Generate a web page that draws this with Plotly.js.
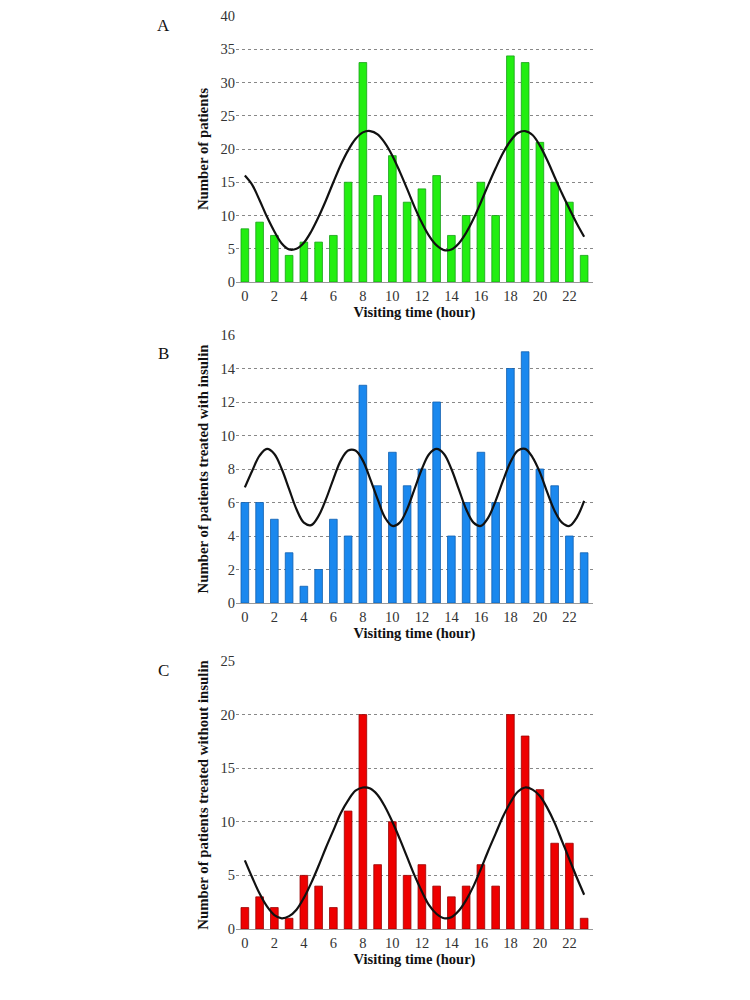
<!DOCTYPE html>
<html>
<head>
<meta charset="utf-8">
<script src="https://cdn.plot.ly/plotly-3.0.1.min.js"></script>
<style>html,body{margin:0;padding:0;background:#fff}#chart{width:750px;height:1000px}</style>
</head>
<body>
<div id="chart"></div>
<script>
const hours = [0,1,2,3,4,5,6,7,8,9,10,11,12,13,14,15,16,17,18,19,20,21,22,23];
const allPatients = [8,9,7,4,6,6,7,15,33,13,19,12,14,16,7,10,15,10,34,33,21,15,12,4];
const withInsulin = [6,6,5,3,1,2,5,4,13,7,9,7,8,12,4,6,9,6,14,15,8,7,4,3];
const withoutInsulin = [2,3,2,1,5,4,2,11,20,6,10,5,6,4,3,4,6,4,20,18,13,8,8,1];

const curveHours = [0,0.5,1,1.5,2,2.5,3,3.5,4,4.5,5,5.5,6,6.5,7,7.5,8,8.5,9,9.5,10,10.5,11,11.5,12,12.5,13,13.5,14,14.5,15,15.5,16,16.5,17,17.5,18,18.5,19,19.5,20,20.5,21,21.5,22,22.5,23];
const fitAll = [16,14.6,12.3,9.8,7.6,5.8,4.9,5.0,5.9,7.6,9.8,12.3,15.0,17.6,19.8,21.5,22.5,22.7,22.2,20.9,19.0,16.6,14.0,11.3,8.9,6.9,5.5,4.8,4.9,5.8,7.4,9.5,12.0,14.6,17.1,19.4,21.2,22.4,22.7,22.1,20.5,18.3,15.8,13.3,11.0,8.8,6.8];
const fitWith = [6.9,7.9,8.8,9.2,8.9,8.0,6.8,5.6,4.8,4.65,5.2,6.2,7.4,8.5,9.1,9.1,8.5,7.4,6.2,5.1,4.6,4.8,5.6,6.8,8.0,8.9,9.2,8.9,8.0,6.8,5.6,4.8,4.6,5.1,6.1,7.3,8.4,9.1,9.2,8.7,7.8,6.6,5.5,4.8,4.6,5.1,6.1];
const fitWithout = [6.4,4.8,3.3,2.1,1.3,1.0,1.2,1.8,2.9,4.3,5.9,7.6,9.2,10.8,12.0,12.9,13.2,13.1,12.5,11.4,10.0,8.4,6.7,5.0,3.5,2.2,1.4,1.0,1.1,1.7,2.7,4.0,5.6,7.3,8.9,10.5,11.8,12.8,13.2,13.0,12.4,11.3,9.9,8.2,6.5,4.8,3.2];

const xTicks = [0,2,4,6,8,10,12,14,16,18,20,22];
const yTitles = ['Number of patients','Number of patients treated with insulin','Number of patients treated without insulin'];
const xTitle = 'Visiting time (hour)';
const panelLetters = ['A','B','C'];

const serif = 'Liberation Serif, Times New Roman, serif';

function bar(y, fill, line, xa, ya){
  return {type:'bar', x:hours, y:y, width:0.52, marker:{color:fill, line:{color:line, width:0.8}},
          xaxis:xa, yaxis:ya, showlegend:false, hoverinfo:'x+y'};
}
function curve(y, xa, ya){
  return {type:'scatter', mode:'lines', x:curveHours, y:y, line:{color:'#111', width:2.2, shape:'spline'},
          xaxis:xa, yaxis:ya, showlegend:false};
}

const data = [
  bar(allPatients,'#22ee11','#18a018','x','y'), curve(fitAll,'x','y'),
  bar(withInsulin,'#1a88ee','#1060b0','x2','y2'), curve(fitWith,'x2','y2'),
  bar(withoutInsulin,'#ee0000','#990000','x3','y3'), curve(fitWithout,'x3','y3')
];

const xdom = [236/750, 593/750];
function xax(anchor, standoff){
  return {domain:xdom, anchor:anchor, range:[-0.6,23.6], tickvals:xTicks, ticktext:xTicks.map(String),
    showgrid:false, zeroline:false, showline:true, linecolor:'#999', linewidth:1.2,
    ticks:'', tickfont:{family:serif, size:14.5, color:'#333'},
    title:{text:'<b>'+xTitle+'</b>', font:{family:serif, size:14.5, color:'#111'}, standoff:standoff}};
}
function yax(anchor, dom, max, dt, title){
  return {domain:dom, anchor:anchor, range:[0,max], dtick:dt, tick0:0,
    showgrid:true, gridcolor:'#888', griddash:'dot', gridwidth:1, zeroline:false, showline:false,
    ticks:'', tickfont:{family:serif, size:14.5, color:'#333'},
    title:{text:'<b>'+title+'</b>', font:{family:serif, size:14.8, color:'#111'}, standoff:8}};
}

const layout = {
  width:750, height:1000, margin:{l:0,r:0,t:0,b:0}, paper_bgcolor:'#fff', plot_bgcolor:'#fff',
  bargap:0.5,
  xaxis: xax('y', 0),
  yaxis: yax('x', [1-282/1000, 1-16/1000], 40, 5, yTitles[0]),
  xaxis2: xax('y2', 4),
  yaxis2: yax('x2', [1-603/1000, 1-335/1000], 16, 2, yTitles[1]),
  xaxis3: xax('y3', 4),
  yaxis3: yax('x3', [1-929/1000, 1-661/1000], 25, 5, yTitles[2]),
  annotations: [
    {text:panelLetters[0], x:163/750, y:1-25/1000},
    {text:panelLetters[1], x:163/750, y:1-353/1000},
    {text:panelLetters[2], x:163/750, y:1-670/1000}
  ].map(a=>Object.assign(a,{xref:'paper', yref:'paper', showarrow:false, xanchor:'center', yanchor:'middle',
        font:{family:serif, size:17, color:'#111'}}))
};

Plotly.newPlot('chart', data, layout, {displayModeBar:false, staticPlot:true});
</script>
</body>
</html>
